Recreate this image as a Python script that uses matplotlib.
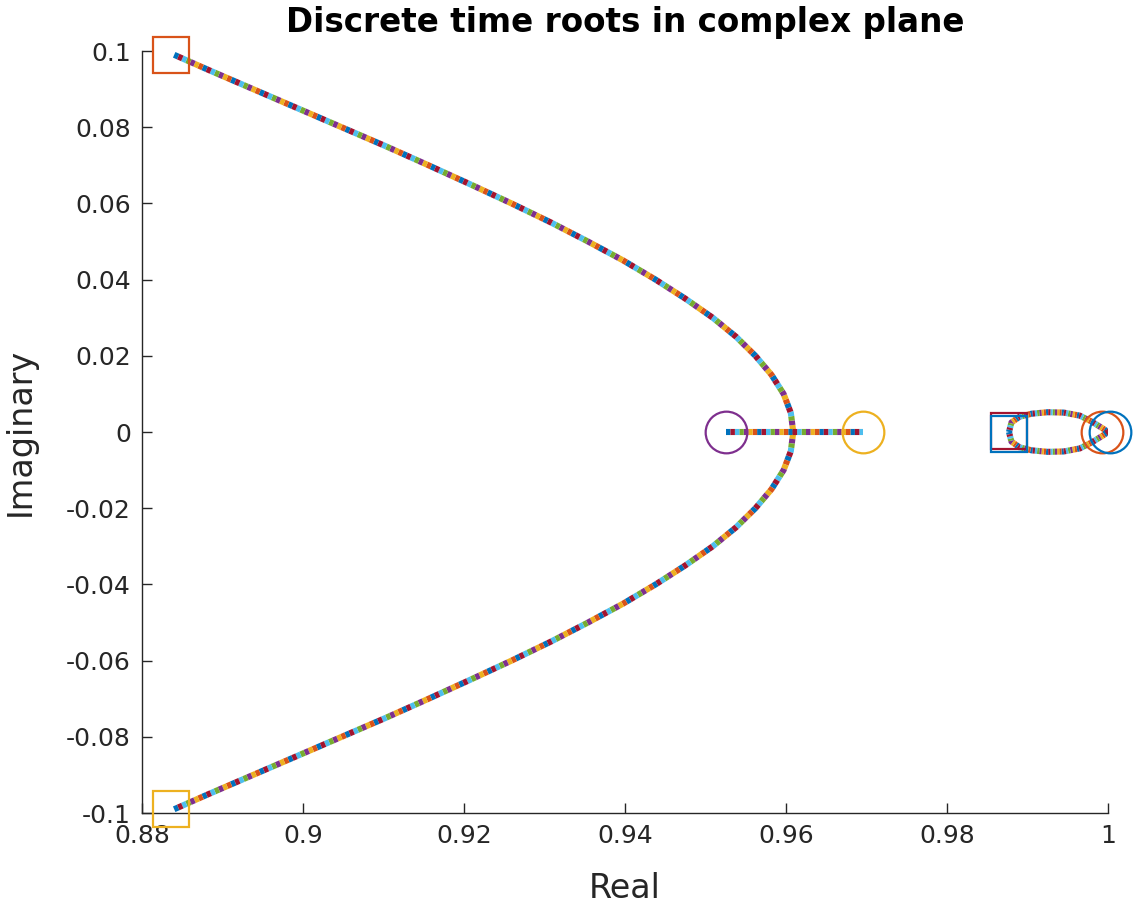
import matplotlib
matplotlib.use("Agg")
import matplotlib.pyplot as plt

plt.rcParams['font.family'] = ['DejaVu Sans']
plt.rcParams['lines.scale_dashes'] = False

# ---- data ----
# complex-pair branches (upper and lower)
upper_re = [0.8840, 0.8883, 0.8938, 0.8993, 0.9048, 0.9103, 0.9156, 0.9208, 0.9259, 0.9308, 0.9354,
            0.9398, 0.9438, 0.9475, 0.9509, 0.9538, 0.9562, 0.9582, 0.9597, 0.9606, 0.9609]
upper_im = [0.0990, 0.0950, 0.0900, 0.0850, 0.0800, 0.0750, 0.0700, 0.0650, 0.0600, 0.0550, 0.0500,
            0.0450, 0.0400, 0.0350, 0.0300, 0.0250, 0.0200, 0.0150, 0.0100, 0.0050, 0.0000]
lower_re = [0.8840, 0.8883, 0.8938, 0.8993, 0.9048, 0.9103, 0.9156, 0.9208, 0.9259, 0.9308, 0.9354,
            0.9398, 0.9438, 0.9475, 0.9509, 0.9538, 0.9562, 0.9582, 0.9597, 0.9606, 0.9609]
lower_im = [-0.0990, -0.0950, -0.0900, -0.0850, -0.0800, -0.0750, -0.0700, -0.0650, -0.0600, -0.0550, -0.0500,
            -0.0450, -0.0400, -0.0350, -0.0300, -0.0250, -0.0200, -0.0150, -0.0100, -0.0050, 0.0000]
# real-axis segment
seg_re = [0.9526, 0.9696]
seg_im = [0.0, 0.0]
# small loop near z = 1
loopu_re = [0.9877, 0.9880, 0.9890, 0.9905, 0.9925, 0.9945, 0.9965, 0.9980, 0.9993, 1.0000]
loopu_im = [0.0000, 0.0025, 0.0040, 0.0048, 0.0052, 0.0051, 0.0043, 0.0027, 0.0010, 0.0000]
loopl_re = [0.9877, 0.9880, 0.9890, 0.9905, 0.9925, 0.9945, 0.9965, 0.9980, 0.9993, 1.0000]
loopl_im = [0.0000, -0.0025, -0.0040, -0.0048, -0.0052, -0.0051, -0.0043, -0.0027, -0.0010, 0.0000]
# poles (squares) and zeros (circles)
pole_re = [0.8836, 0.8836, 0.9877, 0.9877]
pole_im = [0.0990, -0.0989, 0.0004, -0.0004]
pole_col = ['#D95319', '#EDB120', '#A2142F', '#0072BD']
zero_re = [0.9526, 0.9696, 0.9993, 1.0002]
zero_im = [0.0, 0.0, 0.0, 0.0]
zero_col = ['#7E2F8E', '#EDB120', '#D95319', '#0072BD']

xticks = [0.88, 0.9, 0.92, 0.94, 0.96, 0.98, 1.0]
xtick_labels = ['0.88', '0.9', '0.92', '0.94', '0.96', '0.98', '1']
yticks = [-0.1, -0.08, -0.06, -0.04, -0.02, 0, 0.02, 0.04, 0.06, 0.08, 0.1]
ytick_labels = ['-0.1', '-0.08', '-0.06', '-0.04', '-0.02', '0', '0.02', '0.04', '0.06', '0.08', '0.1']

mcolors = ['#0072BD', '#D95319', '#EDB120', '#7E2F8E', '#77AC30', '#4DBEEE', '#A2142F']

fig = plt.figure(figsize=(11.34, 9.06), dpi=100)
ax = fig.add_axes([0.1252, 0.1026, 0.8519, 0.8411])


def dotted(xs, ys, on=3.2, lw=4.4):
    n = len(mcolors)
    for k, c in enumerate(mcolors):
        ax.plot(xs, ys, color=c, lw=lw, linestyle=(k * on, (on, on * (n - 1))),
                dash_capstyle='butt', solid_capstyle='butt', zorder=2)


dotted(upper_re, upper_im)
dotted(lower_re, lower_im)
dotted(seg_re, seg_im)
dotted(loopu_re, loopu_im, on=1.6)
dotted(loopl_re, loopl_im, on=1.6)

for x, y, c in zip(pole_re, pole_im, pole_col):
    ax.plot([x], [y], marker='s', ms=26, mfc='none', mec=c, mew=1.6, ls='none', clip_on=False, zorder=3)
for x, y, c in zip(zero_re, zero_im, zero_col):
    ax.plot([x], [y], marker='o', ms=30, mfc='none', mec=c, mew=1.6, ls='none', clip_on=False, zorder=3)

ax.set_xlim(0.88, 1.0)
ax.set_ylim(-0.1, 0.1)
ax.set_xticks(xticks)
ax.set_xticklabels(xtick_labels)
ax.set_yticks(yticks)
ax.set_yticklabels(ytick_labels)
for s in ['top', 'right']:
    ax.spines[s].set_visible(False)
for s in ['left', 'bottom']:
    ax.spines[s].set_color('#262626')
    ax.spines[s].set_linewidth(1.0)
ax.tick_params(direction='in', length=7, width=1.0, colors='#262626', labelsize=18, pad=8)

ax.set_xlabel('Real', fontsize=24, color='#262626', labelpad=17)
ax.set_ylabel('Imaginary', fontsize=24, color='#262626', labelpad=21)
ax.set_title('Discrete time roots in complex plane', fontsize=23.5, fontweight='bold', pad=14)

fig.savefig('out.png', dpi=100)
